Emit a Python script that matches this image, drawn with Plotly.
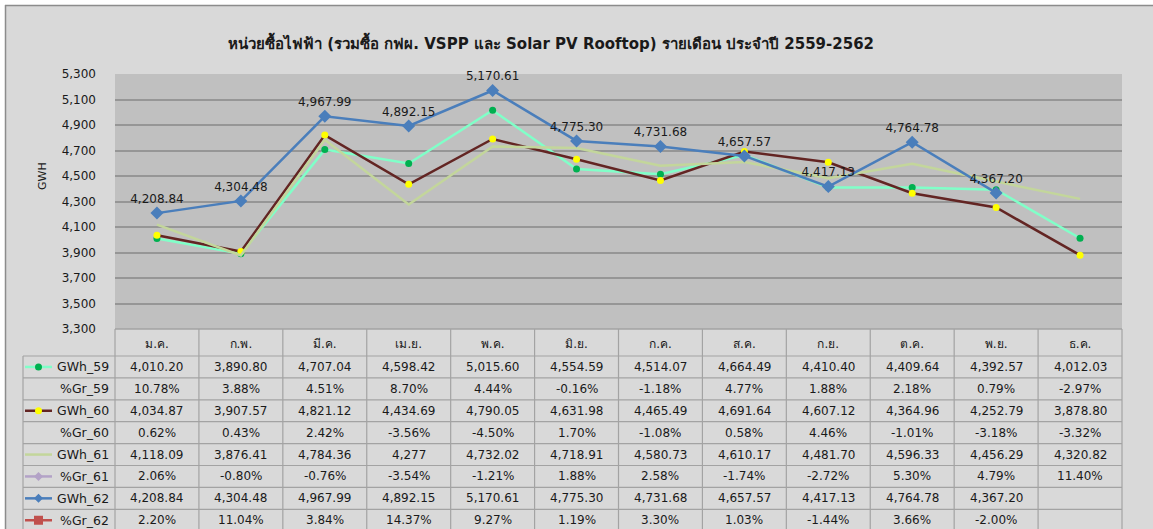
import plotly.graph_objects as go

# ---------------- data ----------------
months = ["ม.ค.", "ก.พ.", "มี.ค.", "เม.ย.", "พ.ค.", "มิ.ย.", "ก.ค.", "ส.ค.", "ก.ย.", "ต.ค.", "พ.ย.", "ธ.ค."]
gwh_59 = [4010.20, 3890.80, 4707.04, 4598.42, 5015.60, 4554.59, 4514.07, 4664.49, 4410.40, 4409.64, 4392.57, 4012.03]
gr_59 = [10.78, 3.88, 4.51, 8.70, 4.44, -0.16, -1.18, 4.77, 1.88, 2.18, 0.79, -2.97]
gwh_60 = [4034.87, 3907.57, 4821.12, 4434.69, 4790.05, 4631.98, 4465.49, 4691.64, 4607.12, 4364.96, 4252.79, 3878.80]
gr_60 = [0.62, 0.43, 2.42, -3.56, -4.50, 1.70, -1.08, 0.58, 4.46, -1.01, -3.18, -3.32]
gwh_61 = [4118.09, 3876.41, 4784.36, 4277, 4732.02, 4718.91, 4580.73, 4610.17, 4481.70, 4596.33, 4456.29, 4320.82]
gr_61 = [2.06, -0.80, -0.76, -3.54, -1.21, 1.88, 2.58, -1.74, -2.72, 5.30, 4.79, 11.40]
gwh_62 = [4208.84, 4304.48, 4967.99, 4892.15, 5170.61, 4775.30, 4731.68, 4657.57, 4417.13, 4764.78, 4367.20, None]
gr_62 = [2.20, 11.04, 3.84, 14.37, 9.27, 1.19, 3.30, 1.03, -1.44, 3.66, -2.00, None]

title_text = "หน่วยซื้อไฟฟ้า (รวมซื้อ กฟผ. VSPP และ Solar PV Rooftop) รายเดือน ประจำปี 2559-2562"
y_title = "GWH"

# ---------------- geometry ----------------
W, H = 1153, 529
PL, PR, PT, PB = 115, 1122, 74, 329
COLW = (PR - PL) / len(months)
TABLE_TOP = 356
ROW_H = 21.9
LEG_LEFT = 23

FONT = "DejaVu Sans, Verdana, Noto Sans, sans-serif"
TXT = "#1a1a1a"
GRID = "#969696"
TLINE = "#a3a3a3"


def px(x):
    return (x - PL) / (PR - PL)


def py(y):
    return (PB - y) / (PB - PT)


def fmt_num(v):
    if v is None:
        return ""
    if float(v).is_integer():
        return "{:,}".format(int(v))
    return "{:,.2f}".format(v)


def fmt_pct(v):
    if v is None:
        return ""
    return "{:.2f}%".format(v)


fig = go.Figure()

c59, c60, c61, c62 = "#80ffc8", "#632523", "#c3d69b", "#4a7ebb"

fig.add_trace(go.Scatter(x=months, y=gwh_59, mode="lines+markers", name="GWh_59",
                         line=dict(color=c59, width=2.5),
                         marker=dict(symbol="circle", size=7, color="#00b050")))
fig.add_trace(go.Scatter(x=months, y=gwh_60, mode="lines+markers", name="GWh_60",
                         line=dict(color=c60, width=2.5),
                         marker=dict(symbol="circle", size=7, color="#ffff00")))
fig.add_trace(go.Scatter(x=months, y=gwh_61, mode="lines", name="GWh_61",
                         line=dict(color=c61, width=2.5)))
fig.add_trace(go.Scatter(x=months, y=gwh_62, mode="lines+markers+text", name="GWh_62",
                         line=dict(color=c62, width=2.5),
                         marker=dict(symbol="diamond", size=10, color=c62),
                         text=[fmt_num(v) for v in gwh_62], textposition="top center",
                         textfont=dict(family=FONT, size=12, color=TXT),
                         cliponaxis=False))

shapes = []
annotations = []

# outer frame
shapes.append(dict(type="rect", xref="paper", yref="paper", x0=px(0), x1=px(W), y0=py(0), y1=py(5),
                   fillcolor="white", line=dict(width=0), layer="above"))
shapes.append(dict(type="rect", xref="paper", yref="paper", x0=px(0), x1=px(5), y0=py(0), y1=py(H),
                   fillcolor="white", line=dict(width=0), layer="above"))
shapes.append(dict(type="line", xref="paper", yref="paper", x0=px(5), x1=px(W), y0=py(5.5), y1=py(5.5),
                   line=dict(color="#8c8c8c", width=1.5)))
shapes.append(dict(type="line", xref="paper", yref="paper", x0=px(5.5), x1=px(5.5), y0=py(5), y1=py(H),
                   line=dict(color="#8c8c8c", width=1.5)))

# table grid
n_rows = 8
bottom = TABLE_TOP + n_rows * ROW_H
for k in range(len(months) + 1):
    xk = PL + k * COLW
    shapes.append(dict(type="line", xref="paper", yref="paper", x0=px(xk), x1=px(xk), y0=py(PB), y1=py(bottom),
                       line=dict(color=TLINE, width=1.2)))
shapes.append(dict(type="line", xref="paper", yref="paper", x0=px(LEG_LEFT), x1=px(LEG_LEFT),
                   y0=py(TABLE_TOP), y1=py(bottom), line=dict(color=TLINE, width=1.2)))
shapes.append(dict(type="line", xref="paper", yref="paper", x0=px(PL), x1=px(PR), y0=py(PB), y1=py(PB),
                   line=dict(color=TLINE, width=1.5)))
for r in range(n_rows + 1):
    yr = TABLE_TOP + r * ROW_H
    shapes.append(dict(type="line", xref="paper", yref="paper", x0=px(LEG_LEFT), x1=px(PR), y0=py(yr), y1=py(yr),
                       line=dict(color=TLINE, width=1.2)))

rows = [
    ("GWh_59", [fmt_num(v) for v in gwh_59], dict(line=c59, marker="circle", mcolor="#00b050")),
    ("%Gr_59", [fmt_pct(v) for v in gr_59], None),
    ("GWh_60", [fmt_num(v) for v in gwh_60], dict(line=c60, marker="circle", mcolor="#ffff00")),
    ("%Gr_60", [fmt_pct(v) for v in gr_60], None),
    ("GWh_61", [fmt_num(v) for v in gwh_61], dict(line=c61, marker=None, mcolor=None)),
    ("%Gr_61", [fmt_pct(v) for v in gr_61], dict(line="#b3a2c7", marker="diamond", mcolor="#b3a2c7")),
    ("GWh_62", [fmt_num(v) for v in gwh_62], dict(line=c62, marker="diamond", mcolor=c62)),
    ("%Gr_62", [fmt_pct(v) for v in gr_62], dict(line="#c0504d", marker="square", mcolor="#c0504d")),
]

for r, (label, cells, key) in enumerate(rows):
    yc = TABLE_TOP + (r + 0.5) * ROW_H
    annotations.append(dict(xref="paper", yref="paper", x=px(111), y=py(yc), text=label, showarrow=False,
                            xanchor="right", yanchor="middle", font=dict(family=FONT, size=12.5, color=TXT)))
    for i, t in enumerate(cells):
        if t == "":
            continue
        annotations.append(dict(xref="paper", yref="paper", x=px(PL + (i + 0.5) * COLW), y=py(yc), text=t,
                                showarrow=False, xanchor="center", yanchor="middle",
                                font=dict(family=FONT, size=12, color=TXT)))
    if key:
        shapes.append(dict(type="line", xref="paper", yref="paper", x0=px(25), x1=px(52), y0=py(yc), y1=py(yc),
                           line=dict(color=key["line"], width=2.5), layer="above"))
        mx = 38.5
        if key["marker"] == "circle":
            shapes.append(dict(type="circle", xref="paper", yref="paper", x0=px(mx - 3.5), x1=px(mx + 3.5),
                               y0=py(yc - 3.5), y1=py(yc + 3.5), fillcolor=key["mcolor"],
                               line=dict(width=0), layer="above"))
        elif key["marker"] == "diamond":
            d = 4.5
            path = "M {} {} L {} {} L {} {} L {} {} Z".format(px(mx), py(yc - d), px(mx + d), py(yc),
                                                              px(mx), py(yc + d), px(mx - d), py(yc))
            shapes.append(dict(type="path", xref="paper", yref="paper", path=path, fillcolor=key["mcolor"],
                               line=dict(width=0), layer="above"))
        elif key["marker"] == "square":
            s = 4.5
            shapes.append(dict(type="rect", xref="paper", yref="paper", x0=px(mx - s), x1=px(mx + s),
                               y0=py(yc - s), y1=py(yc + s), fillcolor=key["mcolor"],
                               line=dict(width=0), layer="above"))

# title & axis title
annotations.append(dict(xref="paper", yref="paper", x=px(551), y=py(42), text="<b>" + title_text + "</b>",
                        showarrow=False, xanchor="center", yanchor="middle",
                        font=dict(family=FONT, size=15, color=TXT)))
annotations.append(dict(xref="paper", yref="paper", x=px(42), y=py(176), text=y_title, textangle=-90,
                        showarrow=False, xanchor="center", yanchor="middle",
                        font=dict(family=FONT, size=11, color=TXT)))

fig.update_layout(
    width=W, height=H,
    margin=dict(l=PL, r=W - PR, t=PT, b=H - PB, pad=0),
    paper_bgcolor="#d9d9d9",
    plot_bgcolor="#c0c0c0",
    showlegend=False,
    hovermode=False,
    shapes=shapes,
    annotations=annotations,
    xaxis=dict(type="category", range=[-0.5, len(months) - 0.5], showgrid=False, zeroline=False,
               showline=False, ticks="", tickfont=dict(family=FONT, size=12, color=TXT),
               ticklabelstandoff=6, fixedrange=True),
    yaxis=dict(range=[3300, 5300], tick0=3300, dtick=200, tickformat=",", showgrid=True, gridcolor=GRID,
               gridwidth=1.5, zeroline=False, showline=False, ticks="",
               tickfont=dict(family=FONT, size=12, color=TXT),
               ticklabelstandoff=18, fixedrange=True),
)

fig.write_html("out.html", config={"displayModeBar": False},
               post_script="document.body.style.margin='0px';")
